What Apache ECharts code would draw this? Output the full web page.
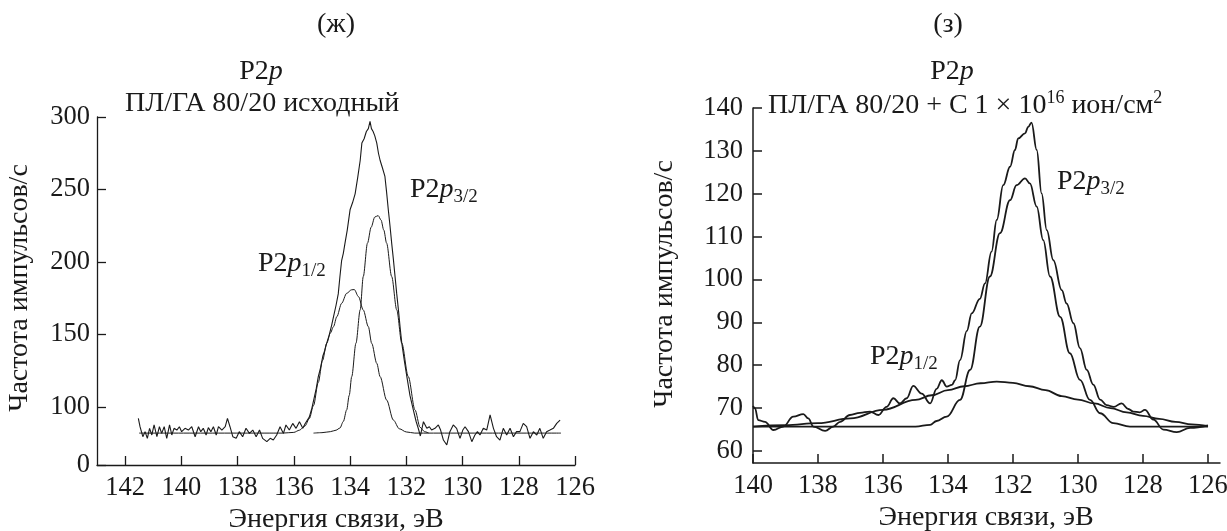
<!DOCTYPE html>
<html>
<head>
<meta charset="utf-8">
<title>P2p</title>
<script src="https://cdn.jsdelivr.net/npm/echarts@6/dist/echarts.min.js"></script>
<style>
  html, body { margin: 0; padding: 0; background: #fff; }
  #chart { width: 1227px; height: 531px; }
</style>
</head>
<body>
<div id="chart"></div>
<script>
// ---- data: [energy eV, counts/s] ----
// (ж) left panel
const leftMeasured = [
  [141.53, 92.2], [141.47, 86.4], [141.37, 79.5], [141.29, 83.0], [141.21, 78.4], [141.13, 85.3],
  [141.05, 80.7], [140.97, 87.6], [140.87, 79.5], [140.78, 86.4], [140.70, 81.8], [140.61, 86.4],
  [140.52, 78.4], [140.42, 87.6], [140.34, 80.7], [140.26, 85.3], [140.16, 84.1], [140.07, 86.4],
  [139.99, 83.0], [139.87, 85.3], [139.75, 84.1], [139.63, 86.4], [139.51, 79.5], [139.39, 86.4],
  [139.31, 83.0], [139.22, 85.3], [139.12, 80.7], [139.04, 85.8], [138.95, 83.0], [138.86, 86.4],
  [138.76, 80.7], [138.68, 86.4], [138.56, 84.1], [138.44, 86.4], [138.36, 92.2], [138.27, 86.4],
  [138.17, 79.5], [138.05, 78.4], [137.94, 83.0], [137.82, 79.5], [137.70, 85.3], [137.58, 81.8],
  [137.46, 84.1], [137.34, 79.5], [137.22, 84.1], [137.11, 78.4], [136.96, 76.1], [136.84, 78.4],
  [136.73, 77.2], [136.61, 80.7], [136.49, 86.4], [136.37, 81.8], [136.28, 87.6], [136.16, 84.1],
  [136.04, 88.7], [135.92, 85.3], [135.80, 89.9], [135.68, 85.3], [135.60, 88.4], [135.54, 89],
  [135.45, 93], [135.36, 99], [135.28, 106], [135.20, 113], [135.13, 121], [135.05, 127],
  [134.97, 135], [134.90, 139], [134.83, 144], [134.75, 149], [134.66, 156], [134.58, 163],
  [134.50, 170], [134.42, 178], [134.36, 190], [134.30, 201], [134.24, 206], [134.18, 213],
  [134.10, 222], [134.00, 236], [133.91, 241], [133.82, 247], [133.73, 258], [133.64, 270],
  [133.58, 282], [133.50, 285], [133.42, 290], [133.35, 292], [133.29, 297], [133.24, 292],
  [133.18, 290], [133.12, 287], [133.05, 282], [132.99, 275], [132.93, 270], [132.85, 265],
  [132.76, 259], [132.70, 248], [132.64, 236], [132.58, 225], [132.52, 213], [132.46, 202],
  [132.40, 190], [132.34, 178], [132.28, 167], [132.22, 155], [132.16, 144], [132.07, 132],
  [131.98, 121], [131.87, 108], [131.75, 98], [131.65, 90], [131.57, 85], [131.50, 80],
  [131.45, 79.5], [131.39, 89.9], [131.27, 85.3], [131.18, 86.4], [131.10, 84.1], [130.98, 85.3],
  [130.86, 87.6], [130.78, 84.1], [130.68, 77.2], [130.56, 73.8], [130.45, 83.0], [130.33, 87.6],
  [130.21, 85.3], [130.09, 78.4], [129.99, 84.1], [129.91, 86.4], [129.79, 83.0], [129.67, 76.1],
  [129.56, 80.7], [129.47, 83.0], [129.38, 80.7], [129.26, 85.3], [129.14, 84.1], [129.02, 94.5],
  [128.90, 85.3], [128.79, 79.5], [128.67, 77.2], [128.55, 85.3], [128.43, 80.7], [128.31, 85.3],
  [128.19, 79.5], [128.08, 83.0], [127.96, 83.0], [127.84, 88.7], [127.72, 86.4], [127.60, 78.4],
  [127.48, 83.0], [127.36, 80.7], [127.25, 85.3], [127.13, 78.4], [127.01, 83.0], [126.89, 84.1],
  [126.77, 85.3], [126.65, 88.7], [126.59, 87.6], [126.53, 91.0]
];
const leftP12 = [
  [141.5, 82], [136.4, 82], [136.0, 82.5], [135.8, 84], [135.6, 87], [135.45, 92], [135.3, 101],
  [135.13, 117], [134.98, 132], [134.83, 144], [134.7, 151], [134.59, 155.4], [134.47, 162.3],
  [134.3, 171.5], [134.12, 178.4], [133.95, 180.8], [133.85, 181], [133.7, 176.1], [133.53, 166.9],
  [133.35, 155.4], [133.23, 143.9], [133.05, 130.1], [132.93, 120.9], [132.7, 104.8], [132.46, 91],
  [132.25, 85], [132.0, 82.8], [131.7, 82], [126.5, 82]
];
const leftP32 = [
  [135.3, 82], [135.0, 82.3], [134.7, 83], [134.5, 84], [134.36, 85.5], [134.24, 90], [134.12, 98],
  [134.03, 108], [133.94, 121], [133.79, 144], [133.64, 167], [133.53, 190], [133.38, 213],
  [133.25, 224], [133.12, 231], [133.0, 232], [132.9, 229], [132.8, 222], [132.7, 213],
  [132.52, 190], [132.34, 167], [132.16, 144], [131.93, 121], [131.69, 98], [131.51, 86],
  [131.35, 83], [131.2, 82]
];
// (з) right panel
const rightMeasured = [
  [140.0, 70.5], [139.94, 70.0], [139.84, 67.2], [139.63, 66.8], [139.37, 64.9], [139.07, 65.7],
  [138.76, 68.0], [138.45, 68.6], [138.30, 67.6], [138.14, 65.7], [137.78, 64.7], [137.53, 65.7],
  [137.32, 66.8], [137.02, 68.4], [136.71, 68.9], [136.40, 69.2], [136.14, 68.4], [135.89, 70.3],
  [135.68, 72.3], [135.48, 71.1], [135.27, 72.3], [135.07, 75.2], [134.81, 73.4], [134.55, 71.1],
  [134.35, 74.5], [134.19, 76.5], [134.04, 75.0], [133.88, 75.4], [133.78, 76.5], [133.63, 81.2],
  [133.42, 88.0], [133.27, 92.1], [133.02, 95.5], [132.86, 99.1], [132.66, 106.5], [132.50, 113.9],
  [132.30, 122.0], [132.09, 126.3], [131.94, 130.2], [131.84, 132.9], [131.63, 134.1], [131.53, 135.6],
  [131.43, 136.6], [131.27, 130.2], [131.12, 120.1], [130.96, 111.5], [130.76, 104.5], [130.50, 97.5],
  [130.35, 94.4], [130.14, 89.8], [129.94, 84.0], [129.73, 78.9], [129.53, 75.5], [129.32, 72.0],
  [129.12, 70.7], [128.90, 70.3], [128.66, 71.1], [128.45, 69.8], [128.30, 69.2], [128.10, 69.0],
  [127.94, 69.6], [127.68, 67.3], [127.37, 65.0], [126.96, 64.4], [126.55, 65.4], [126.0, 66.0]
];
const rightP12 = [
  [140.0, 65.7], [139.0, 66.0], [138.0, 66.5], [137.0, 67.6], [136.0, 69.6], [135.0, 71.9],
  [134.5, 73.0], [134.0, 74.2], [133.5, 75.1], [133.0, 75.8], [132.5, 76.2], [132.0, 75.9],
  [131.5, 75.1], [131.0, 74.2], [130.5, 72.8], [130.0, 72.0], [129.5, 71.1], [129.0, 70.0],
  [128.5, 69.0], [128.0, 68.2], [127.5, 67.5], [127.0, 66.8], [126.5, 66.2], [126.0, 65.8]
];
const rightP32 = [
  [140.0, 65.7], [135.0, 65.7], [134.55, 66.1], [134.35, 67.0], [134.04, 68.0], [133.63, 71.9],
  [133.32, 78.9], [133.02, 89.0], [132.71, 100.7], [132.40, 110.8], [132.09, 118.5], [131.89, 122.0],
  [131.63, 123.6], [131.48, 122.4], [131.27, 117.0], [131.07, 109.2], [130.86, 100.7], [130.55, 91.3],
  [130.25, 82.8], [129.94, 76.6], [129.63, 71.9], [129.32, 68.8], [128.91, 66.5], [128.4, 65.7],
  [126.0, 65.7]
];
// tick labels
const leftXTicks = [126, 128, 130, 132, 134, 136, 138, 140, 142];
const leftYTicks = [60, 100, 150, 200, 250, 300];
const leftYLabels = ['0', '100', '150', '200', '250', '300'];
const rightXTicks = [126, 128, 130, 132, 134, 136, 138, 140];
const rightYTicks = [60, 70, 80, 90, 100, 110, 120, 130, 140];

const myChart = echarts.init(document.getElementById('chart'));
const serif = 'Liberation Serif';
const ink = '#1a1a1a';
const textSize = 28;
const tickSize = 26.5;

const rich = {
    n: { fontFamily: serif, fontSize: textSize, lineHeight: 34, fill: ink },
    i: { fontFamily: serif, fontSize: textSize, fontStyle: 'italic', lineHeight: 34, fill: ink },
    sub: { fontFamily: serif, fontSize: 19, lineHeight: 16, verticalAlign: 'bottom', fill: ink },
    sup: { fontFamily: serif, fontSize: 18, lineHeight: 16, verticalAlign: 'top', fill: ink },
};

function label(text, x, y, align, extra) {
    return Object.assign({
        type: 'text',
        x: x,
        y: y,
        silent: true,
        style: {
            text: text,
            rich: rich,
            fontFamily: serif,
            fontSize: textSize,
            fill: ink,
            align: align || 'left',
            textAlign: align || 'left',
            verticalAlign: 'middle',
            textVerticalAlign: 'middle',
        },
    }, extra || {});
}

function xAxisOf(gridIndex, min, max, ticks, width) {
    return {
        type: 'value',
        gridIndex: gridIndex,
        inverse: true,
        min: min,
        max: max,
        axisLine: { onZero: false, lineStyle: { color: ink, width: width } },
        axisTick: { inside: true, length: 9, customValues: ticks, lineStyle: { color: ink, width: width } },
        axisLabel: { customValues: ticks, color: ink, fontFamily: serif, fontSize: tickSize, margin: 10 },
        splitLine: { show: false },
    };
}

function yAxisOf(gridIndex, min, max, ticks, width, margin, formatter) {
    return {
        type: 'value',
        gridIndex: gridIndex,
        min: min,
        max: max,
        axisLine: { show: true, onZero: false, lineStyle: { color: ink, width: width } },
        axisTick: { show: true, inside: true, length: 9, customValues: ticks, lineStyle: { color: ink, width: width } },
        axisLabel: {
            customValues: ticks, color: ink, fontFamily: serif, fontSize: tickSize, margin: margin,
            formatter: formatter,
        },
        splitLine: { show: false },
    };
}

function line(data, xi, width, smooth) {
    return {
        type: 'line',
        xAxisIndex: xi,
        yAxisIndex: xi,
        data: data,
        symbol: 'none',
        smooth: smooth,
        smoothMonotone: 'x',
        animation: false,
        lineStyle: { color: ink, width: width },
    };
}

const option = {
    backgroundColor: '#fff',
    animation: false,
    grid: [
        { left: 97, top: 117, width: 478, height: 348, containLabel: false, outerBoundsMode: 'none' },
        { left: 753, top: 108, width: 467, height: 355, containLabel: false, outerBoundsMode: 'none' },
    ],
    xAxis: [
        xAxisOf(0, 126, 143, leftXTicks, 1.3),
        xAxisOf(1, 125.63, 140, rightXTicks, 1.5),
    ],
    yAxis: [
        yAxisOf(0, 60, 300, leftYTicks, 1.3, 7, function (v) {
            return leftYLabels[leftYTicks.indexOf(v)];
        }),
        yAxisOf(1, 57.2, 140, rightYTicks, 1.5, 10),
    ],
    series: [
        line(leftP12, 0, 1, 0.3),
        line(leftP32, 0, 1, 0.3),
        line(leftMeasured, 0, 1.1, false),
        line(rightP12, 1, 1.8, 0.4),
        line(rightP32, 1, 1.8, 0.4),
        line(rightMeasured, 1, 1.8, 0.4),
    ],
    graphic: [
        label('(ж)', 336, 25, 'center'),
        label('{n|P2}{i|p}', 261, 72, 'center'),
        label('{n|ПЛ/ГА 80/20 исходный}', 125, 104, 'left'),
        label('{n|P2}{i|p}{sub|1/2}', 258, 264, 'left'),
        label('{n|P2}{i|p}{sub|3/2}', 410, 190, 'left'),
        label('(з)', 948, 25, 'center'),
        label('{n|P2}{i|p}', 952, 72, 'center'),
        label('{n|ПЛ/ГА 80/20 + С 1 × 10}{sup|16}{n| ион/см}{sup|2}', 768, 106, 'left'),
        label('{n|P2}{i|p}{sub|1/2}', 870, 357, 'left'),
        label('{n|P2}{i|p}{sub|3/2}', 1057, 182, 'left'),
        label('Энергия связи, эВ', 336, 520, 'center'),
        label('Энергия связи, эВ', 986, 518, 'center'),
        label('Частота импульсов/с', 20, 288, 'center', { rotation: Math.PI / 2 }),
        label('Частота импульсов/с', 665, 284, 'center', { rotation: Math.PI / 2 }),
    ],
};

myChart.setOption(option);
myChart.resize();
</script>
</body>
</html>
